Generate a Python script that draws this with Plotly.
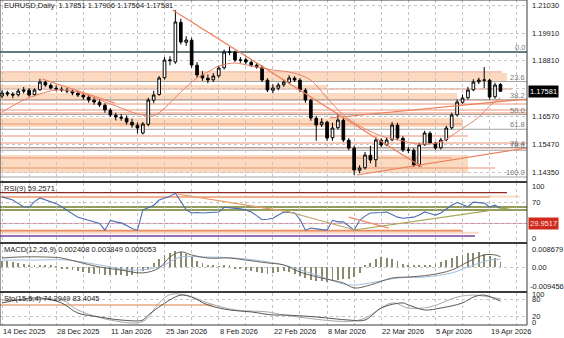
import plotly.graph_objects as go

# ---------------- data ----------------
symbol_title = "EURUSD,Daily  1.17851 1.17906 1.17564 1.17581"

date_labels = ["14 Dec 2025", "28 Dec 2025", "11 Jan 2026", "25 Jan 2026", "8 Feb 2026",
               "22 Feb 2026", "8 Mar 2026", "22 Mar 2026", "5 Apr 2026", "19 Apr 2026"]
date_label_bars = [0, 10, 20, 30, 40, 50, 60, 70, 80, 90]

opens = [1.1739, 1.1752, 1.1746, 1.1744, 1.1758, 1.1762, 1.1744, 1.1764, 1.1794, 1.1782,
         1.1770, 1.1766, 1.1762, 1.1758, 1.1750, 1.1742, 1.1734, 1.1722, 1.1714, 1.1702,
         1.1682, 1.1662, 1.1654, 1.1650, 1.1634, 1.1622, 1.1591, 1.1626, 1.1722, 1.1745,
         1.1812, 1.1880, 1.1875, 1.2034, 1.1954, 1.1962, 1.1862, 1.1822, 1.1810, 1.1804,
         1.1820, 1.1852, 1.1913, 1.1914, 1.1882, 1.1884, 1.1874, 1.1862, 1.1854, 1.1802,
         1.1762, 1.1770, 1.1784, 1.1794, 1.1810, 1.1802, 1.1762, 1.1722, 1.1650, 1.1624,
         1.1634, 1.1572, 1.1612, 1.1642, 1.1562, 1.1530, 1.1442, 1.1452, 1.1502, 1.1484,
         1.1562, 1.1544, 1.1564, 1.1622, 1.1570, 1.1522, 1.1522, 1.1464, 1.1544, 1.1590,
         1.1550, 1.1532, 1.1564, 1.1612, 1.1664, 1.1714, 1.1732, 1.1764, 1.1796, 1.1802,
         1.1802, 1.1736, 1.17851]
highs = [1.1762, 1.1760, 1.1755, 1.1768, 1.1775, 1.1771, 1.1770, 1.1808, 1.1800, 1.1790,
         1.1781, 1.1776, 1.1771, 1.1765, 1.1760, 1.1751, 1.1745, 1.1734, 1.1726, 1.1710,
         1.1690, 1.1672, 1.1667, 1.1661, 1.1648, 1.1633, 1.1635, 1.1732, 1.1760, 1.1819,
         1.1895, 1.1898, 1.2083, 1.2048, 1.1978, 1.1972, 1.1875, 1.1838, 1.1825, 1.1830,
         1.1860, 1.1925, 1.1935, 1.1920, 1.1895, 1.1893, 1.1882, 1.1870, 1.1862, 1.1810,
         1.1786, 1.1792, 1.1805, 1.1822, 1.1818, 1.1810, 1.1770, 1.1728, 1.1660, 1.1650,
         1.1640, 1.1632, 1.1668, 1.1650, 1.1570, 1.1540, 1.1462, 1.1515, 1.1540, 1.1575,
         1.1570, 1.1572, 1.1635, 1.1632, 1.1578, 1.1535, 1.1530, 1.1552, 1.1600, 1.1598,
         1.1556, 1.1572, 1.1620, 1.1672, 1.1725, 1.1745, 1.1776, 1.1806, 1.1812, 1.1855,
         1.1808, 1.1792, 1.17906]
lows = [1.1731, 1.1738, 1.1730, 1.1737, 1.1749, 1.1736, 1.1738, 1.1760, 1.1776, 1.1765,
        1.1758, 1.1755, 1.1750, 1.1742, 1.1735, 1.1724, 1.1712, 1.1704, 1.1695, 1.1672,
        1.1655, 1.1641, 1.1640, 1.1625, 1.1612, 1.1589, 1.1585, 1.1618, 1.1710, 1.1740,
        1.1805, 1.1862, 1.1868, 1.1945, 1.1940, 1.1852, 1.1812, 1.1800, 1.1790, 1.1795,
        1.1812, 1.1845, 1.1902, 1.1875, 1.1872, 1.1866, 1.1855, 1.1848, 1.1795, 1.1755,
        1.1750, 1.1762, 1.1776, 1.1786, 1.1795, 1.1755, 1.1712, 1.1640, 1.1560, 1.1615,
        1.1560, 1.1560, 1.1605, 1.1555, 1.1522, 1.1423, 1.1430, 1.1445, 1.1470, 1.1455,
        1.1535, 1.1538, 1.1558, 1.1562, 1.1515, 1.1510, 1.1455, 1.1455, 1.1540, 1.1545,
        1.1523, 1.1525, 1.1558, 1.1605, 1.1658, 1.1708, 1.1725, 1.1758, 1.1787, 1.1770,
        1.1725, 1.1728, 1.17564]
closes = [1.1751, 1.1747, 1.1743, 1.1759, 1.1763, 1.1743, 1.1763, 1.1795, 1.1783, 1.1771,
          1.1767, 1.1763, 1.1759, 1.1751, 1.1743, 1.1735, 1.1723, 1.1715, 1.1703, 1.1683,
          1.1663, 1.1655, 1.1651, 1.1635, 1.1623, 1.1611, 1.1627, 1.1723, 1.1743, 1.1811,
          1.1883, 1.1883, 1.2035, 1.1955, 1.1963, 1.1863, 1.1823, 1.1811, 1.1803, 1.1819,
          1.1851, 1.1915, 1.1915, 1.1883, 1.1883, 1.1875, 1.1863, 1.1855, 1.1803, 1.1763,
          1.1771, 1.1783, 1.1795, 1.1811, 1.1803, 1.1763, 1.1723, 1.1651, 1.1623, 1.1635,
          1.1571, 1.1611, 1.1643, 1.1563, 1.1531, 1.1443, 1.1451, 1.1503, 1.1483, 1.1563,
          1.1543, 1.1563, 1.1623, 1.1571, 1.1523, 1.1523, 1.1463, 1.1543, 1.1591, 1.1551,
          1.1531, 1.1563, 1.1611, 1.1663, 1.1715, 1.1731, 1.1763, 1.1795, 1.1803, 1.1803,
          1.1735, 1.1783, 1.17581]
last_price = "1.17581"

# moving average on the price chart
ma_bars = [0, 4, 7, 10, 14, 18, 22, 25, 28, 30, 33, 36, 38, 40, 43, 46, 50, 53, 55, 57,
           60, 63, 66, 70, 74, 77, 81, 84, 88, 90, 92]
ma_vals = [1.1675, 1.1723, 1.1747, 1.1763, 1.1755, 1.1723, 1.1691, 1.1667, 1.1659, 1.1691,
           1.1755, 1.1811, 1.1835, 1.1859, 1.1871, 1.1859, 1.1843, 1.1835, 1.1823, 1.1803,
           1.1731, 1.1663, 1.1619, 1.1579, 1.1559, 1.1547, 1.1555, 1.1595, 1.1655, 1.1699,
           1.1731]

# horizontal price levels, zones and fibonacci anchors
level_prices = [1.1835, 1.1767, 1.1723, 1.1707, 1.1683, 1.1671, 1.1627, 1.1579, 1.1551,
                1.1531, 1.1491, 1.1451]
level_end_bars = [92.3, 94.1, 96.9, 96.9, 96.9, 96.9, 85.0, 86.0, 96.9, 96.9, 83.0, 91.0]
zone_lows = [1.1795, 1.1771, 1.1727, 1.1615, 1.1431]
zone_highs = [1.1831, 1.1783, 1.1751, 1.1651, 1.1503]
zone_end_bars = [93.2, 60.0, 84.0, 85.0, 86.0]
fib_high = 1.1915
fib_low = 1.1415
fib_levels = [0.0, 23.6, 38.2, 50.0, 61.8, 76.4, 78.6, 100.0]

# trend lines on price: (bar0, price0, bar1, price1)
price_trend_lines = [(31.5, 1.2083, 77.5, 1.1455),
                     (7.4, 1.1807, 20.8, 1.1711),
                     (65.5, 1.1423, 96.9, 1.1531),
                     (60.5, 1.1651, 96.9, 1.1727)]

# RSI(9)
rsi_vals = [81, 78, 75, 68, 62, 61, 72, 79, 75, 72, 68, 62, 55, 48, 42, 39, 36, 33, 30, 17,
            36, 33, 31, 26, 20, 17, 56, 60, 65, 75, 79, 82, 88, 71, 56, 50, 51, 50, 51, 51,
            52, 61, 60, 60, 58, 56, 52, 45, 37, 38, 40, 46, 52, 51, 50, 38, 17, 21, 19, 18,
            17, 36, 33, 33, 25, 17, 36, 44, 50, 50, 51, 52, 47, 42, 40, 41, 42, 46, 52, 49,
            46, 50, 58, 65, 70, 66, 62, 71, 70, 69, 61.5, 65, 59.2571]
rsi_title = "RSI(9) 59.2571"
rsi_level_vals = [89.0, 81.0, 61.5, 55.8, 29.9517, 16.0, 12.0, 5.8]
rsi_level_end_bars = [93.2, 90.0, 96.9, 96.9, 96.9, 85.0, 88.0, 87.3]
rsi_trend_lines = [(32.3, 86.5, 53.1, 52.0),
                   (51.7, 55.8, 65.1, 17.3),
                   (65.0, 17.3, 94.6, 61.5),
                   (64.0, 42.0, 71.4, 21.0)]

# MACD(12,26,9)
macd_title = "MACD(12,26,9) 0.002408 0.003849 0.005053"
macd_hist = [0.0030, 0.0028, 0.0025, 0.0020, 0.0015, 0.0010,
             0.0008, 0.0012, 0.0010, 0.0005, 0.0002,
             -0.0005, -0.0010, -0.0015, -0.0020, -0.0025, -0.0030, -0.0032, -0.0035, -0.0038,
             -0.0040, -0.0038, -0.0040, -0.0042, -0.0040, -0.0035, -0.0020, -0.0005,
             0.0020, 0.0040, 0.0060, 0.0070, 0.0080, 0.0075, 0.0065, 0.0050,
             0.0030, 0.0020, 0.0010, 0.0005, 0.0003, 0.0008, 0.0005,
             -0.0005, -0.0010, -0.0015, -0.0020, -0.0025, -0.0030, -0.0035, -0.0030, -0.0025, -0.0020,
             -0.0025, -0.0035, -0.0045, -0.0055, -0.0065, -0.0070, -0.0068, -0.0072, -0.0070,
             -0.0065, -0.0060, -0.0060, -0.0050, -0.0030,
             0.0005, 0.0020, 0.0040, 0.0050, 0.0045, 0.0040, 0.0030, 0.0015,
             0.0005, 0.0008, 0.0010, 0.0012, 0.0010, 0.0015,
             0.0025, 0.0035, 0.0045, 0.0055, 0.0060, 0.0068, 0.0070, 0.0072, 0.0065, 0.0055,
             0.0045, 0.002408]
macd_main_bars = [0, 3, 8, 11, 14, 18, 22, 26, 29, 31, 33, 35, 38, 42, 45, 49, 52, 55, 59,
                  63, 65, 68, 72, 75, 79, 83, 86, 89, 91, 92]
macd_main_vals = [0.0044, 0.0049, 0.0049, 0.0044, 0.0025, 0.0000, -0.0015, -0.0029, -0.0005,
                  0.0049, 0.0074, 0.0059, 0.0044, 0.0044, 0.0034, 0.0020, 0.0010, -0.0025,
                  -0.0054, -0.0078, -0.0103, -0.0088, -0.0054, -0.0049, -0.0039, -0.0015,
                  0.0025, 0.0059, 0.0059, 0.005053]
macd_signal_bars = [0, 6, 12, 18, 24, 29, 33, 37, 43, 49, 52, 58, 64, 68, 73, 78, 83, 86, 90, 92]
macd_signal_vals = [0.0034, 0.0034, 0.0034, 0.0010, -0.0015, 0.0000, 0.0049, 0.0049, 0.0044,
                    0.0025, 0.0010, -0.0039, -0.0088, -0.0078, -0.0054, -0.0049, -0.0029,
                    0.0000, 0.0034, 0.003849]
macd_axis_labels = [0.008679, 0.0, -0.009456]
macd_axis_texts = ["0.008679", "0.00", "-0.009456"]

# Stochastic(15,5,4)
sto_title = "Sto(15,5,4) 74.2949 83.4045"
sto_main_bars = [0, 3, 7, 11, 14, 18, 22, 26, 27, 31, 33, 35, 38, 42, 46, 50, 52, 58, 64,
                 67, 70, 74, 75, 78, 81, 85, 87, 89, 92]
sto_main_vals = [68, 79, 86, 68, 32, 18, 7, 7, 25, 79, 96, 89, 61, 43, 36, 25, 25, 18, 7,
                 7, 50, 68, 61, 43, 50, 68, 89, 96, 74.2949]
sto_signal_bars = [0, 6, 11, 14, 20, 26, 29, 31, 34, 38, 43, 49, 52, 64, 67, 72, 75, 79, 84,
                   87, 90, 92]
sto_signal_vals = [79, 79, 79, 43, 7, 2, 68, 98, 96, 68, 43, 36, 25, 2, 14, 68, 50, 54, 89,
                   96, 89, 83.4045]
sto_level_val = 60.7
sto_level_end_bar = 39.0

price_axis_vals = [1.21030, 1.19910, 1.18810, 1.16570, 1.15470, 1.14350]
price_grid_vals = [1.21030, 1.19910, 1.18810, 1.17710, 1.16570, 1.15470, 1.14350]

# ---------------- layout geometry ----------------
W, H = 564, 338
PLOT_H = 325          # height of plot area (bottom margin holds dates)
X_RANGE = [-0.37, 96.9]


def pf(y_px):
    """pixel row inside plot area -> paper fraction"""
    return 1 - y_px / PLOT_H


FONT = "Liberation Sans"
FS = 7.5
TXT = "#1a1a1a"
GRID = "#c4c4c4"
SALMON = "#EE9270"
PEACH = "#FBD6B8"

bars = list(range(len(closes)))

fig = go.Figure()

# ---- price panel ----
fig.add_trace(go.Candlestick(
    x=bars, open=opens, high=highs, low=lows, close=closes,
    increasing=dict(line=dict(color="black", width=1), fillcolor="white"),
    decreasing=dict(line=dict(color="black", width=1), fillcolor="black"),
    whiskerwidth=0, xaxis="x", yaxis="y", showlegend=False, hoverinfo="skip"))
fig.add_trace(go.Scatter(x=ma_bars, y=ma_vals, mode="lines", xaxis="x", yaxis="y",
                         line=dict(color="#E8826A", width=1, shape="spline", smoothing=0.8),
                         showlegend=False, hoverinfo="skip"))

# ---- RSI panel ----
fig.add_trace(go.Scatter(x=bars, y=rsi_vals, mode="lines", xaxis="x2", yaxis="y2",
                         line=dict(color="#4D6CB3", width=1.1), showlegend=False,
                         hoverinfo="skip"))

# ---- MACD panel ----
fig.add_trace(go.Bar(x=bars, y=macd_hist, width=0.16, xaxis="x3", yaxis="y3",
                     marker=dict(color="#8A8A70", line=dict(width=0)), showlegend=False,
                     hoverinfo="skip"))
fig.add_trace(go.Scatter(x=macd_signal_bars, y=macd_signal_vals, mode="lines",
                         xaxis="x3", yaxis="y3",
                         line=dict(color="#9DBDE0", width=1, shape="spline"),
                         showlegend=False, hoverinfo="skip"))
fig.add_trace(go.Scatter(x=macd_main_bars, y=macd_main_vals, mode="lines",
                         xaxis="x3", yaxis="y3",
                         line=dict(color="#6A6258", width=1, shape="spline"),
                         showlegend=False, hoverinfo="skip"))

# ---- Stochastic panel ----
fig.add_trace(go.Scatter(x=sto_signal_bars, y=sto_signal_vals, mode="lines",
                         xaxis="x4", yaxis="y4",
                         line=dict(color="#A8A8A8", width=1, shape="spline"),
                         showlegend=False, hoverinfo="skip"))
fig.add_trace(go.Scatter(x=sto_main_bars, y=sto_main_vals, mode="lines",
                         xaxis="x4", yaxis="y4",
                         line=dict(color="#555555", width=1, shape="spline"),
                         showlegend=False, hoverinfo="skip"))

shapes = []
annotations = []

# zones and levels on price
for lo, hi, end in zip(zone_lows, zone_highs, zone_end_bars):
    shapes.append(dict(type="rect", xref="x", yref="y", x0=-1, x1=end, y0=lo, y1=hi,
                       fillcolor=PEACH, opacity=0.9, line=dict(width=0), layer="below"))
for p, end in zip(level_prices, level_end_bars):
    shapes.append(dict(type="line", xref="x", yref="y", x0=-1, x1=end, y0=p, y1=p,
                       line=dict(color=SALMON, width=1.2), layer="below"))
for lvl in fib_levels:
    p = fib_high - (fib_high - fib_low) * lvl / 100.0
    main = lvl == 0.0
    shapes.append(dict(type="line", xref="x", yref="y", x0=-1, x1=X_RANGE[1], y0=p, y1=p,
                       line=dict(color="#2F4F4F" if main else "#A3A3A3",
                                 width=1.5 if main else 1), layer="below"))
    annotations.append(dict(xref="x", yref="y", x=X_RANGE[1], y=p, text=f"{lvl:.1f}",
                            xanchor="right", yanchor="bottom", showarrow=False,
                            font=dict(family=FONT, size=FS, color="#7A7A7A"), yshift=-2))
for x0, y0, x1, y1 in price_trend_lines:
    shapes.append(dict(type="line", xref="x", yref="y", x0=x0, y0=y0, x1=x1, y1=y1,
                       line=dict(color="#EC7F5A", width=1.2)))

# RSI levels and trend lines
rsi_colors = ["#8E2A22", "#EF9468", "#6E7B2A", "#6E7B2A", "#D9809A", "#EE8A5A", "#FBD9C2",
              "#7A3FA0"]
rsi_widths = [1.2, 1.5, 1.3, 1.3, 1, 2, 2, 1.3]
for v, end, c, w in zip(rsi_level_vals, rsi_level_end_bars, rsi_colors, rsi_widths):
    shapes.append(dict(type="line", xref="x2", yref="y2", x0=-1, x1=end, y0=v, y1=v,
                       line=dict(color=c, width=w), layer="below"))
shapes.append(dict(type="rect", xref="x2", yref="y2", x0=90.0, x1=95.6, y0=79.5, y1=83.5,
                   fillcolor=PEACH, opacity=0.8, line=dict(width=0), layer="below"))
rsi_trend_colors = ["#E59A62", "#B9A46A", "#A4A452", "#EC8C6C"]
for (x0, y0, x1, y1), c in zip(rsi_trend_lines, rsi_trend_colors):
    shapes.append(dict(type="line", xref="x2", yref="y2", x0=x0, y0=y0, x1=x1, y1=y1,
                       line=dict(color=c, width=1.2)))

# stochastic level
shapes.append(dict(type="line", xref="x4", yref="y4", x0=-1, x1=sto_level_end_bar,
                   y0=sto_level_val, y1=sto_level_val,
                   line=dict(color="#E7A77C", width=1.5), layer="below"))

# panel separators and frame
for y_px in (182, 243, 292):
    shapes.append(dict(type="line", xref="paper", yref="paper", x0=0, x1=1,
                       y0=pf(y_px), y1=pf(y_px), line=dict(color="#3a3a3a", width=2)))
shapes.append(dict(type="rect", xref="paper", yref="paper", x0=0, x1=1, y0=0, y1=1,
                   line=dict(color="#3a3a3a", width=1)))

# panel titles
for text, y_px in ((symbol_title, 6), (rsi_title, 188), (macd_title, 249), (sto_title, 298)):
    annotations.append(dict(xref="paper", yref="paper", x=0.004, y=pf(y_px), text=text,
                            xanchor="left", yanchor="middle", showarrow=False,
                            font=dict(family=FONT, size=FS, color=TXT)))

# right-hand axis labels
def right_label(text, yref, y, **kw):
    d = dict(xref="paper", yref=yref, x=1, y=y, text=text, xanchor="left", yanchor="middle",
             showarrow=False, xshift=3, font=dict(family=FONT, size=FS, color=TXT))
    d.update(kw)
    annotations.append(d)


for v in price_axis_vals:
    right_label(f"{v:.5f}", "y", v)
right_label(last_price, "y", float(last_price), bgcolor="black",
            font=dict(family=FONT, size=FS, color="white"), xshift=1, borderpad=1)
for v, t in ((100, "100"), (70, "70"), (0, "0")):
    right_label(t, "y2", v)
right_label("29.9517", "y2", 29.9517, bgcolor="#CF2A1C",
            font=dict(family=FONT, size=FS, color="#FFE4E0"), xshift=1, borderpad=1)
for v, t in zip(macd_axis_labels, macd_axis_texts):
    right_label(t, "y3", v, xshift=1 if t.startswith("-") else 3)
for v, t in ((100, "100"), (80, "80"), (20, "20"), (0, "0")):
    right_label(t, "y4", v)

# date labels
for b, t in zip(date_label_bars, date_labels):
    annotations.append(dict(xref="x4", yref="paper", x=b, y=pf(331), text=t,
                            xanchor="left", yanchor="middle", showarrow=False, xshift=-1,
                            font=dict(family=FONT, size=FS, color=TXT)))

week_ticks = list(range(0, 100, 5))
xax = dict(range=X_RANGE, showticklabels=False, showgrid=True, gridcolor=GRID,
           griddash="dot", gridwidth=1, tickvals=week_ticks, zeroline=False,
           showline=False, fixedrange=True, ticks="")


def yax(domain, rng, grid_vals):
    return dict(domain=domain, range=rng, side="right", showticklabels=False,
                showgrid=True, gridcolor=GRID, griddash="dot", tickvals=grid_vals,
                zeroline=False, showline=False, fixedrange=True, ticks="")


fig.update_layout(
    width=W, height=H,
    margin=dict(l=0, r=37, t=0, b=H - PLOT_H),
    paper_bgcolor="white", plot_bgcolor="white",
    xaxis=dict(xax, anchor="y", rangeslider=dict(visible=False)),
    xaxis2=dict(xax, anchor="y2"),
    xaxis3=dict(xax, anchor="y3"),
    xaxis4=dict(xax, anchor="y4"),
    yaxis=yax([pf(181), 1], [1.2123 - 0.0004 * 181, 1.2123], price_grid_vals),
    yaxis2=yax([pf(242), pf(183)], [(239 - 242) / 0.52, (239 - 183) / 0.52], [70, 30]),
    yaxis3=yax([pf(291), pf(244)], [(267 - 291) / 2040, (267 - 244) / 2040], [0]),
    yaxis4=yax([0, pf(293)], [(322 - 325) / 0.28, (322 - 293) / 0.28], [80, 20]),
    shapes=shapes, annotations=annotations,
    bargap=0, showlegend=False,
    font=dict(family=FONT, size=FS, color=TXT),
)

fig.write_html("out.html")
